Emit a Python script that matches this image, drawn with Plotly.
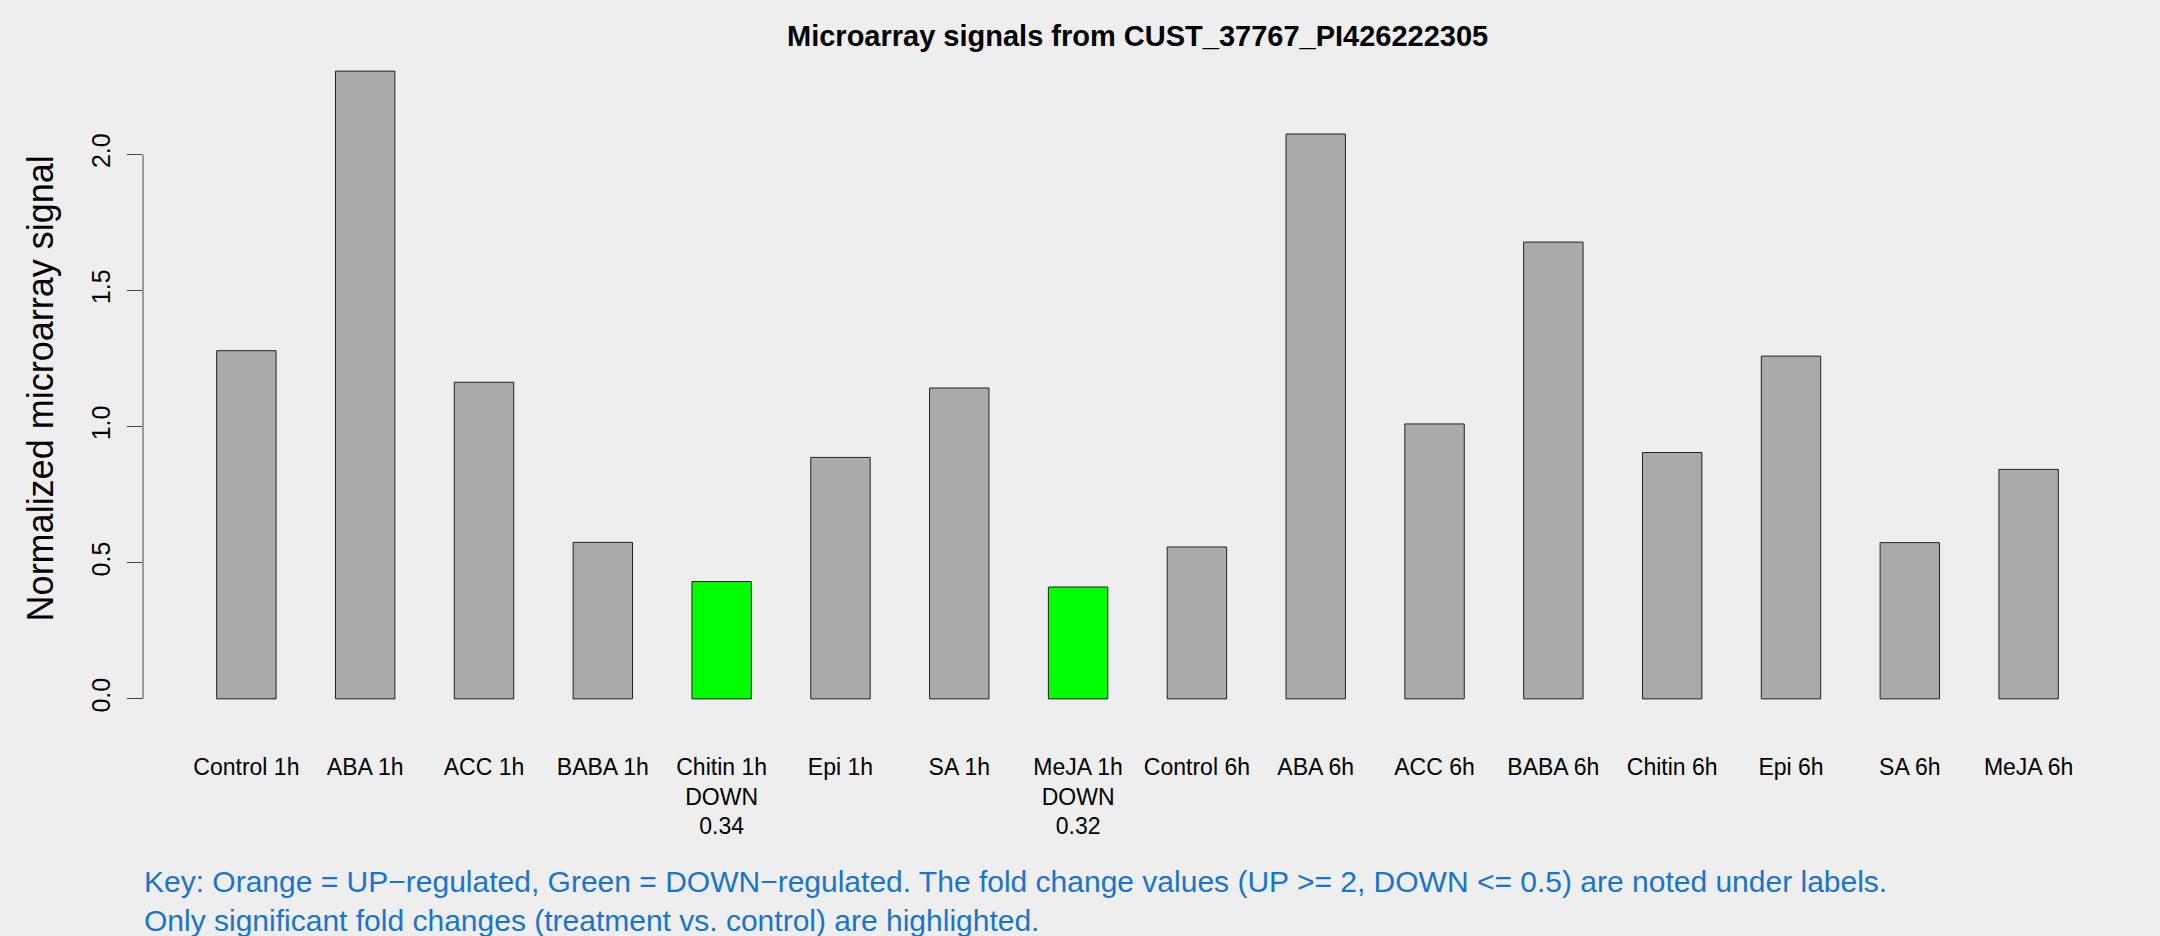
import plotly.graph_objects as go

categories = ["Control 1h", "ABA 1h", "ACC 1h", "BABA 1h", "Chitin 1h", "Epi 1h", "SA 1h", "MeJA 1h",
              "Control 6h", "ABA 6h", "ACC 6h", "BABA 6h", "Chitin 6h", "Epi 6h", "SA 6h", "MeJA 6h"]
signals = [1.279, 2.306, 1.163, 0.575, 0.431, 0.887, 1.142, 0.411,
           0.558, 2.075, 1.010, 1.678, 0.905, 1.259, 0.574, 0.843]
regulation = ["", "", "", "", "DOWN", "", "", "DOWN",
              "", "", "", "", "", "", "", ""]
fold_change = [None, None, None, None, 0.34, None, None, 0.32,
               None, None, None, None, None, None, None, None]
y_ticks = [0.0, 0.5, 1.0, 1.5, 2.0]

title = "Microarray signals from CUST_37767_PI426222305"
y_title = "Normalized microarray signal"
key_text = ("Key: Orange = UP\u2212regulated, Green = DOWN\u2212regulated. The fold change values "
            "(UP >= 2, DOWN <= 0.5) are noted under labels.<br>"
            "Only significant fold changes (treatment vs. control) are highlighted.")

color_map = {"": "#AAAAAA", "DOWN": "#00FF00", "UP": "#FFA500"}
bar_colors = [color_map[r] for r in regulation]
tick_text = []
for c, r, f in zip(categories, regulation, fold_change):
    if r:
        tick_text.append(f"{c}<br>{r}<br>{f:.2f}")
    else:
        tick_text.append(c)

FONT = "Liberation Sans, Arial, Helvetica, sans-serif"
W, H = 2160, 936
ML, MR, MT, MB = 143, 28, 46, 212

fig = go.Figure()
fig.add_trace(go.Bar(
    x=categories, y=signals,
    marker=dict(color=bar_colors, line=dict(color="#222222", width=1)),
    hoverinfo="x+y",
))

ymax = max(signals)
pad = 0.04 * ymax
fig.update_layout(
    width=W, height=H,
    paper_bgcolor="#EEEEEE", plot_bgcolor="#EEEEEE",
    margin=dict(l=ML, r=MR, t=MT, b=MB, pad=0),
    bargap=0.5,
    showlegend=False,
    font=dict(family=FONT, color="black"),
    xaxis=dict(
        type="category",
        range=[-0.87, len(categories) - 1 + 0.87],
        tickvals=categories, ticktext=tick_text,
        showline=False, showgrid=False, zeroline=False,
        ticks="outside", ticklen=22, tickcolor="rgba(0,0,0,0)",
        tickfont=dict(size=23, color="black", family=FONT),
        tickangle=0,
    ),
    yaxis=dict(
        range=[-pad, ymax + pad],
        tickvals=y_ticks, ticktext=[f"{v:.1f}" for v in y_ticks],
        showline=False, showgrid=False, zeroline=False,
        ticks="outside", ticklen=15, tickcolor="#444444", tickwidth=1,
        tickangle=-90,
        tickfont=dict(size=25, color="black", family=FONT),
        ticklabelstandoff=7,
    ),
)

# y axis line spanning the tick range (as R draws it)
fig.add_shape(type="line", xref="paper", yref="y", x0=0, x1=0,
              y0=min(y_ticks), y1=max(y_ticks), line=dict(color="#444444", width=1))

plot_w = W - ML - MR
plot_h = H - MT - MB

fig.add_annotation(text=f"<b>{title}</b>", xref="paper", yref="paper",
                   x=0.5, y=1 + (MT - 36) / plot_h, xanchor="center", yanchor="middle",
                   showarrow=False, font=dict(size=29, color="black", family=FONT))
fig.add_annotation(text=y_title, xref="paper", yref="paper",
                   x=(40 - ML) / plot_w, y=0.495, xanchor="center", yanchor="middle",
                   textangle=-90, showarrow=False, font=dict(size=36, color="black", family=FONT))
fig.add_annotation(text=key_text, xref="paper", yref="paper",
                   x=(142 - ML) / plot_w, y=-(900.5 - (H - MB)) / plot_h,
                   xanchor="left", yanchor="middle", align="left",
                   showarrow=False, font=dict(size=30, color="#1874CD", family=FONT))

fig.write_html("out.html", config={"displayModeBar": False},
               post_script="document.body.style.margin='0';document.body.style.overflow='hidden';")
